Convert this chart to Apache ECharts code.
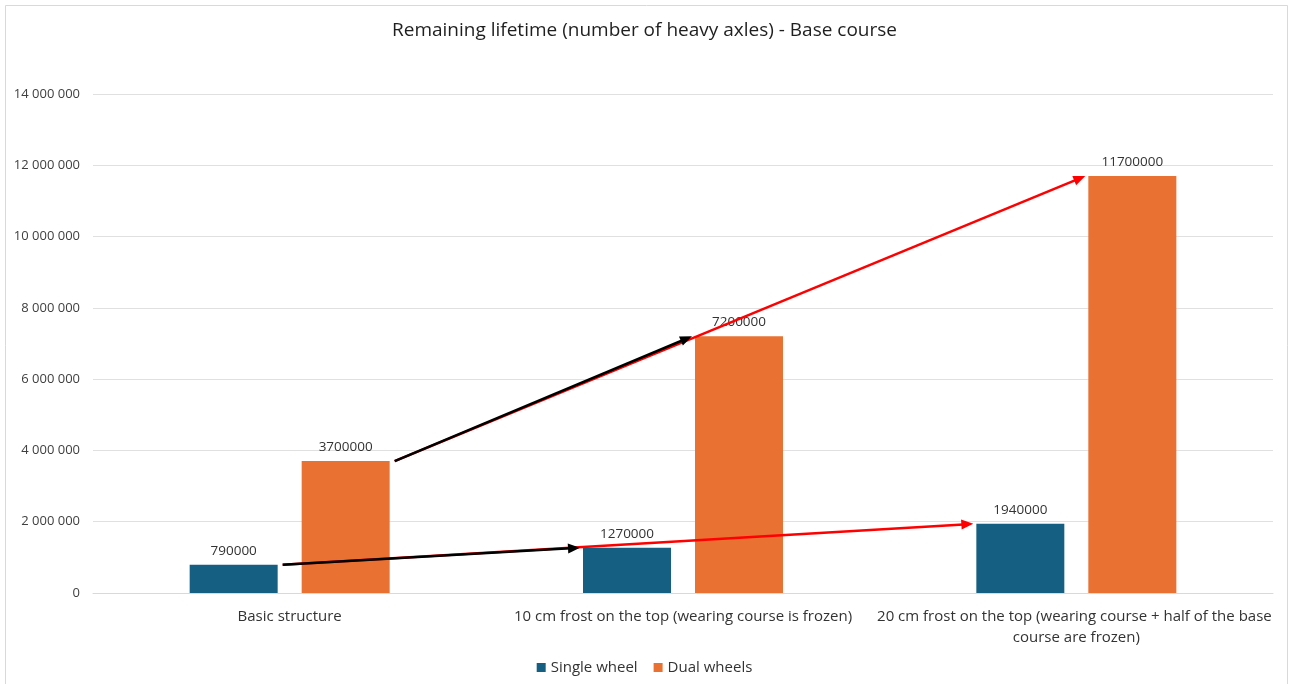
<!DOCTYPE html>
<html>
<head>
<meta charset="utf-8">
<script src="https://cdn.jsdelivr.net/npm/echarts@6/dist/echarts.min.js"></script>
<style>
  html, body { margin: 0; padding: 0; background: #fff; }
  #chart { width: 1289px; height: 684px; }
</style>
</head>
<body>
<div id="chart"></div>
<script>
// Remaining lifetime of the base course, by load configuration
const categories = [
  'Basic structure',
  '10 cm frost on the top (wearing course is frozen)',
  '20 cm frost on the top (wearing course + half of the base course are frozen)'
];
const singleWheel = [790000, 1270000, 1940000];
const dualWheels = [3700000, 7200000, 11700000];
const yTicks = { min: 0, max: 14000000, interval: 2000000 };

// Trend arrows: [fromCategory, fromValue, toCategory, toValue, side(-1 single, +1 dual)]
const redArrows = [
  [0, singleWheel[0], 2, singleWheel[2], -1],
  [0, dualWheels[0], 2, dualWheels[2], 1]
];
const blackArrows = [
  [0, singleWheel[0], 1, singleWheel[1], -1],
  [0, dualWheels[0], 1, dualWheels[1], 1]
];

const BAR_W = 88;
const BAR_GAP = 24;
const FONT = '"Open Sans", "Noto Sans", sans-serif';

function fmtTick(v) {
  return String(v).replace(/\B(?=(\d{3})+(?!\d))/g, ' ');
}

function arrowRenderer(color) {
  return function (params, api) {
    const a = api.coord([api.value(0), api.value(1)]);
    const b = api.coord([api.value(2), api.value(3)]);
    const off = api.value(4) * (BAR_W / 2 + BAR_GAP / 2);
    const x1 = a[0] + off + BAR_W / 2 + 5, y1 = a[1];
    const x2 = b[0] + off - BAR_W / 2 - 3, y2 = b[1];
    const dx = x2 - x1, dy = y2 - y1;
    const len = Math.sqrt(dx * dx + dy * dy);
    const ux = dx / len, uy = dy / len;
    const headL = 12, headW = 5;
    const bx = x2 - ux * headL, by = y2 - uy * headL;
    return {
      type: 'group',
      children: [
        {
          type: 'line',
          shape: { x1: x1, y1: y1, x2: bx + ux * 2, y2: by + uy * 2 },
          style: { stroke: color, lineWidth: 2.5 }
        },
        {
          type: 'polygon',
          shape: {
            points: [
              [x2, y2],
              [bx - uy * headW, by + ux * headW],
              [bx + uy * headW, by - ux * headW]
            ]
          },
          style: { fill: color }
        }
      ]
    };
  };
}

const chart = echarts.init(document.getElementById('chart'), null, { renderer: 'canvas' });

chart.setOption({
  animation: false,
  backgroundColor: '#ffffff',
  textStyle: { fontFamily: FONT },
  title: {
    text: 'Remaining lifetime (number of heavy axles) - Base course',
    left: 'center',
    top: 16,
    textStyle: { fontFamily: FONT, fontSize: 19, fontWeight: 'normal', color: '#1f1f1f' }
  },
  graphic: [{
    type: 'rect',
    shape: { x: 5.5, y: 5.5, width: 1282, height: 690 },
    style: { fill: 'none', stroke: '#d9d9d9', lineWidth: 1 },
    silent: true
  }],
  legend: {
    data: ['Single wheel', 'Dual wheels'],
    bottom: 4,
    left: 'center',
    icon: 'rect',
    itemWidth: 9,
    itemHeight: 9,
    itemGap: 16,
    itemStyle: { borderWidth: 0 },
    textStyle: { fontFamily: FONT, fontSize: 15, color: '#333333' }
  },
  grid: { left: 93, right: 16, top: 94, bottom: 91, containLabel: false },
  xAxis: {
    type: 'category',
    data: categories,
    axisLine: { lineStyle: { color: '#d9d9d9' } },
    axisTick: { show: false },
    axisLabel: {
      fontFamily: FONT,
      fontSize: 15,
      color: '#333333',
      margin: 13,
      width: 410,
      overflow: 'break',
      lineHeight: 21,
      interval: 0
    }
  },
  yAxis: {
    type: 'value',
    min: yTicks.min,
    max: yTicks.max,
    interval: yTicks.interval,
    axisLine: { show: false },
    axisTick: { show: false },
    splitLine: { lineStyle: { color: '#e0e0e0', width: 1 } },
    axisLabel: {
      fontFamily: FONT,
      fontSize: 13,
      color: '#404040',
      margin: 13,
      formatter: fmtTick
    }
  },
  series: [
    {
      name: 'Single wheel',
      type: 'bar',
      data: singleWheel,
      barWidth: BAR_W,
      barGap: (BAR_GAP / BAR_W * 100) + '%',
      itemStyle: { color: '#156082' },
      label: {
        show: true, position: 'top', distance: 7,
        fontFamily: FONT, fontSize: 13.5, color: '#333333'
      }
    },
    {
      name: 'Dual wheels',
      type: 'bar',
      data: dualWheels,
      barWidth: BAR_W,
      barGap: (BAR_GAP / BAR_W * 100) + '%',
      itemStyle: { color: '#E97132' },
      label: {
        show: true, position: 'top', distance: 7,
        fontFamily: FONT, fontSize: 13.5, color: '#333333'
      }
    },
    {
      name: 'trend-red',
      type: 'custom',
      renderItem: arrowRenderer('#ff0000'),
      encode: { x: 0, y: 1 },
      data: redArrows,
      clip: false,
      silent: true,
      z: 5
    },
    {
      name: 'trend-black',
      type: 'custom',
      renderItem: arrowRenderer('#000000'),
      encode: { x: 0, y: 1 },
      data: blackArrows,
      clip: false,
      silent: true,
      z: 6
    }
  ]
});
</script>
</body>
</html>
